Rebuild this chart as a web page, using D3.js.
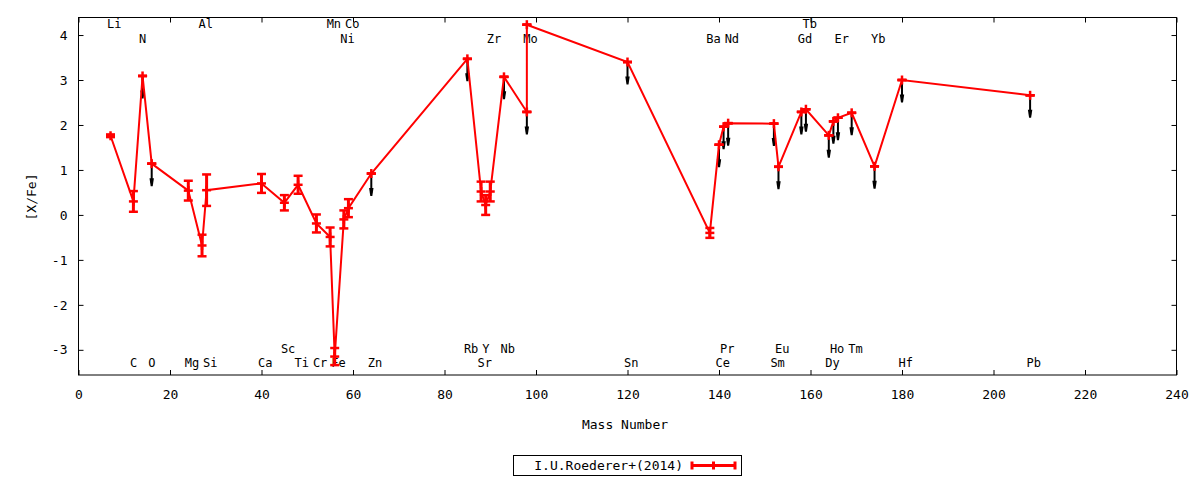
<!DOCTYPE html>
<html><head><meta charset="utf-8">
<script src="https://cdn.jsdelivr.net/npm/d3@7"></script>
<style>
body{margin:0;background:#fff}
text{font-family:"DejaVu Sans Mono",monospace;font-size:13px;fill:#000}
</style>
</head><body>
<svg id="c" width="1200" height="480"></svg>
<script>
// ---- data ----
const elements = ["Li","C","N","O","Mg","Al","Si","Ca","Sc","Ti","Cr","Mn","Fe","Ni","Co","Zn","Rb","Sr","Y","Zr","Nb","Mo","Tc","Sn","Ba","Ce","Pr","Nd","Sm","Eu","Gd","Tb","Dy","Ho","Er","Tm","Yb","Hf","Pb"];
const mass     = [7,12,14,16,24,27,28,40,45,48,52,55,56,58,59,64,85,88,89,90,93,98,98,120,138,140,141,142,152,153,158,159,164,165,166,169,174,180,208];
const value    = [1.76,0.30,3.09,1.14,0.54,-0.68,0.55,0.70,0.27,0.67,-0.19,-0.49,-3.15,-0.10,0.15,0.92,3.47,0.52,0.22,0.52,3.07,2.29,4.23,3.40,-0.40,1.56,1.96,2.04,2.03,1.07,2.29,2.35,1.77,2.08,2.16,2.27,1.08,3.00,2.66];
const err      = [0.03,0.23,0,0,0.22,0.24,0.35,0.21,0.17,0.20,0.20,0.21,0.19,0.20,0.20,0,0,0.22,0.22,0.22,0,0,0,0,0.11,0,0,0,0,0,0,0,0,0,0,0,0,0,0];
const upper    = [0,0,1,1,0,0,0,0,0,0,0,0,0,0,0,1,1,0,0,0,1,1,0,1,0,1,1,1,1,1,1,1,1,1,1,1,1,1,1];
const limitDrop = 0.5;

const labelText  = ["Li","Al","Mn","Co","Tb",
                    "N","Ni","Zr","Mo","Ba","Nd","Gd","Er","Yb",
                    "Sc","Rb","Y","Nb","Pr","Eu","Ho","Tm",
                    "C","O","Mg","Si","Ca","Ti","Cr","Fe","Zn","Sr","Sn","Ce","Sm","Dy","Hf","Pb"];
const labelMass  = [7,27,55,59,159,
                    14,58,90,98,138,142,158,166,174,
                    45,85,89,93,141,153,165,169,
                    12,16,24,28,40,48,52,56,64,88,120,140,152,164,180,208];
const labelRowY  = [4.25,4.25,4.25,4.25,4.25,
                    3.92,3.92,3.92,3.92,3.92,3.92,3.92,3.92,3.92,
                    -2.97,-2.97,-2.97,-2.97,-2.97,-2.97,-2.97,-2.97,
                    -3.29,-3.29,-3.29,-3.29,-3.29,-3.29,-3.29,-3.29,-3.29,-3.29,-3.29,-3.29,-3.29,-3.29,-3.29,-3.29];

const xTicks = [0,20,40,60,80,100,120,140,160,180,200,220,240];
const yTicks = [-3,-2,-1,0,1,2,3,4];
const seriesName = "I.U.Roederer+(2014)";
const xTitle = "Mass Number";
const yTitle = "[X/Fe]";

// ---- layout ----
const L = 78.5, R = 1176.5, T = 17.5, B = 375;
const x = d3.scaleLinear().domain([0,240]).range([L,R]);
const y = d3.scaleLinear().domain([-3.56,4.39]).range([B,T]);
const svg = d3.select("#c");
const red = "#ff0000";

// axes (inward ticks, mirrored)
const fmt = d => String(d);
const gx = svg.append("g").attr("transform",`translate(0,${B})`)
  .call(d3.axisBottom(x).tickValues(xTicks).tickSize(-5).tickPadding(15).tickFormat(fmt));
const gxt = svg.append("g").attr("transform",`translate(0,${T})`)
  .call(d3.axisTop(x).tickValues(xTicks).tickSize(-5).tickFormat(""));
const gy = svg.append("g").attr("transform",`translate(${L},0)`)
  .call(d3.axisLeft(y).tickValues(yTicks).tickSize(-5).tickPadding(11).tickFormat(fmt));
const gyr = svg.append("g").attr("transform",`translate(${R},0)`)
  .call(d3.axisRight(y).tickValues(yTicks).tickSize(-5).tickFormat(""));
[gx,gxt,gy,gyr].forEach(g=>{
  g.select(".domain").remove();
  g.selectAll("line").attr("stroke","#000").attr("stroke-width",1);
  g.selectAll("text").attr("font-family","DejaVu Sans Mono").attr("font-size",13).attr("fill","#000");
});
svg.append("rect").attr("x",L).attr("y",T).attr("width",R-L).attr("height",B-T)
  .attr("fill","none").attr("stroke","#000").attr("stroke-width",1);

// titles
svg.append("text").attr("x",625).attr("y",429).attr("text-anchor","middle").text(xTitle);
svg.append("text").attr("transform","translate(36,197) rotate(-90)").attr("text-anchor","middle").text(yTitle);

// element labels
svg.append("g").selectAll("text").data(labelText).join("text")
  .attr("x",(d,i)=>x(labelMass[i])-3.5)
  .attr("y",(d,i)=>y(labelRowY[i]))
  .attr("dy","0.35em")
  .style("font-size","12px")
  .text(d=>d);

const pts = elements.map((e,i)=>({e, m:mass[i], v:value[i], er:err[i], up:upper[i]}));

// upper-limit arrows (black)
const ga = svg.append("g");
pts.filter(p=>p.up).forEach(p=>{
  const px = x(p.m), y0 = y(p.v), y1 = y(p.v - limitDrop);
  ga.append("line").attr("x1",px).attr("x2",px).attr("y1",y0).attr("y2",y1-3)
    .attr("stroke","#000").attr("stroke-width",2);
  ga.append("path").attr("d",`M${px-2.2},${y1-8} L${px+2.2},${y1-8} L${px+1},${y1} L${px-1},${y1} Z`)
    .attr("fill","#000");
});

// red line
svg.append("path").datum(pts)
  .attr("d",d3.line().x(p=>x(p.m)).y(p=>y(p.v)))
  .attr("fill","none").attr("stroke",red).attr("stroke-width",2);

// error bars + markers
const gm = svg.append("g").attr("stroke",red);
pts.forEach(p=>{
  const px = x(p.m), py = y(p.v), yt = y(p.v+p.er), yb = y(p.v-p.er);
  gm.append("line").attr("x1",px).attr("x2",px).attr("y1",yt).attr("y2",yb).attr("stroke-width",3);
  [yt,yb].forEach(yy=>gm.append("line").attr("x1",px-4.5).attr("x2",px+4.5).attr("y1",yy).attr("y2",yy).attr("stroke-width",2.5));
  gm.append("line").attr("x1",px-4.5).attr("x2",px+4.5).attr("y1",py).attr("y2",py).attr("stroke-width",2.5);
  gm.append("line").attr("x1",px).attr("x2",px).attr("y1",py-4.5).attr("y2",py+4.5).attr("stroke-width",2.5);
});

// legend
svg.append("rect").attr("x",513.5).attr("y",455.5).attr("width",228).attr("height",20)
  .attr("fill","none").attr("stroke","#000").attr("stroke-width",1);
svg.append("text").attr("x",683).attr("y",465.5).attr("dy","0.35em").attr("text-anchor","end").text(seriesName);
const lg = svg.append("g").attr("stroke",red);
lg.append("line").attr("x1",692).attr("x2",735).attr("y1",465.5).attr("y2",465.5).attr("stroke-width",3);
[692,735,713.5].forEach(xx=>lg.append("line").attr("x1",xx).attr("x2",xx).attr("y1",461.5).attr("y2",469.5).attr("stroke-width",3));
</script>
</body></html>
